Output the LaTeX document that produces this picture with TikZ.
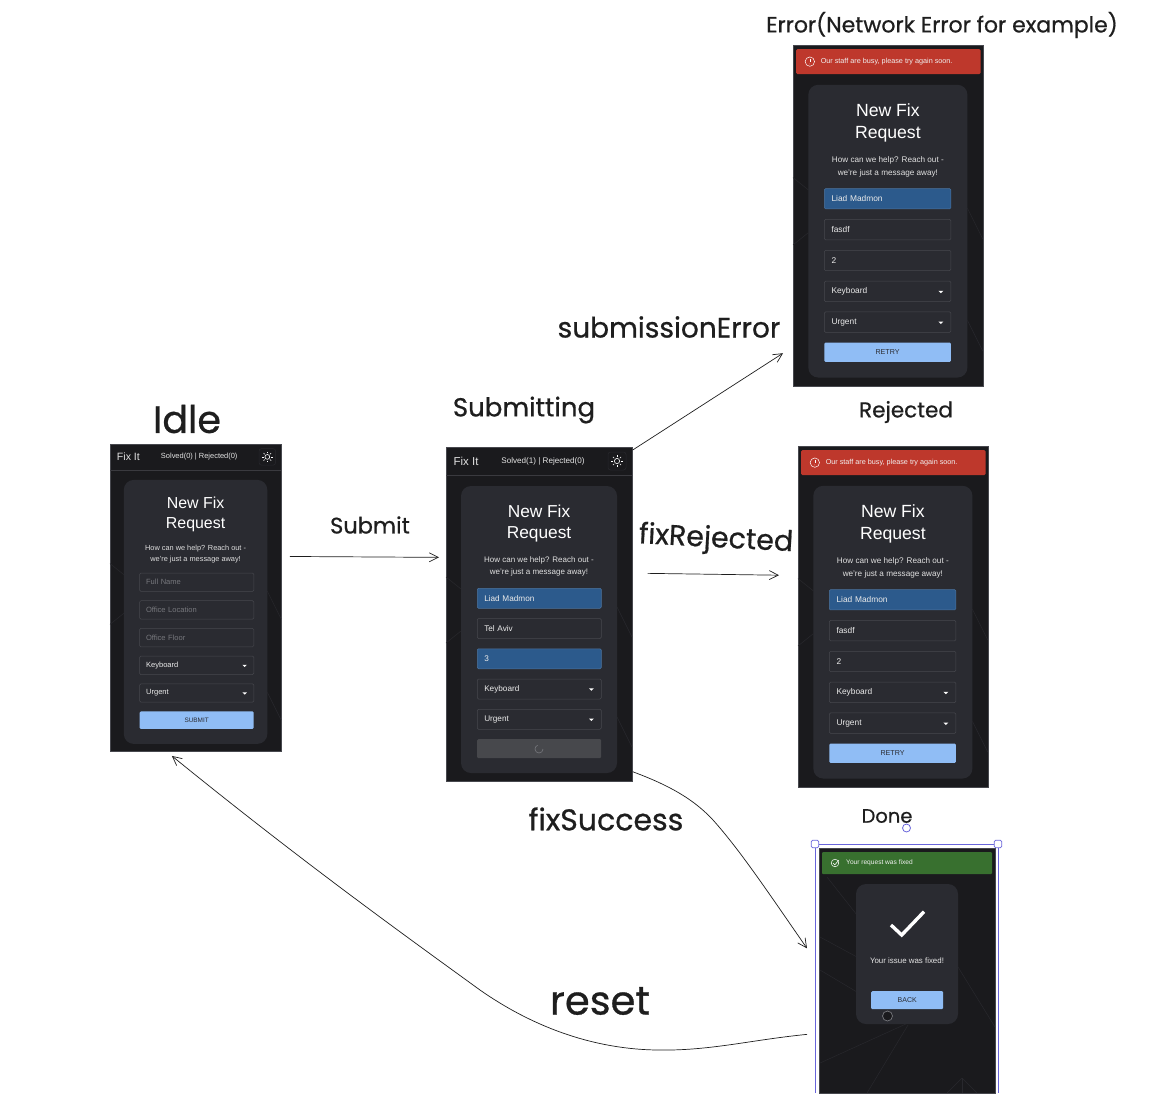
\documentclass[tikz,border=0pt]{standalone}
\usepackage{fontspec}
\setmainfont{Liberation Sans}
\newfontfamily\handfont[FakeBold=0.7]{Poppins}
\usepackage{tikz}
\usetikzlibrary{arrows.meta, calc}
\usepackage{xcolor}
\definecolor{fixPage}{HTML}{1A1A1D}
\definecolor{fixCard}{HTML}{2A2B31}
\definecolor{fixEdge}{HTML}{47484E}
\definecolor{fixFaint}{HTML}{28282D}
\definecolor{fixBlue}{HTML}{2C5A8C}
\definecolor{fixBtn}{HTML}{90BDF5}
\definecolor{fixGrey}{HTML}{47484C}
\definecolor{fixRed}{HTML}{BE382C}
\definecolor{fixGreen}{HTML}{38702F}
\definecolor{fixHint}{HTML}{77787D}
\definecolor{fixSelect}{HTML}{6965DB}
\definecolor{handInk}{HTML}{1E1E1E}

\begin{document}
\begin{tikzpicture}[
  x=1pt, y=-1pt,
  >={Straight Barb[length=9pt, width=9pt]},
  hand/.style={text=handInk, inner sep=0pt},
  link/.style={draw=handInk, line width=0.7pt, ->},
  idlescr/.style={shift={(110,444)}, scale=0.92, transform shape},
  subscr/.style={shift={(446,447)}, transform shape},
  errscr/.style={shift={(793,45)}, scale=1.02, transform shape},
  rejscr/.style={shift={(798,446)}, scale=1.02, transform shape},
  phonebox/.style={draw=fixEdge, fill=fixPage, line width=0.7pt, minimum width=186,
                   minimum height=334, inner sep=0pt, anchor=north west},
  whitetxt/.style={text=white, inner sep=0pt, align=center},
  fieldbase/.style={anchor=north west, minimum height=20, text width=110, inner xsep=7,
                    inner ysep=0pt, align=left, font=\fontsize{8.2}{10}\selectfont,
                    line width=0.5pt, rounded corners=1.2pt},
  fieldhint/.style={fieldbase, draw=fixEdge, text=fixHint},
  fieldtext/.style={fieldbase, draw=fixEdge, text=white!92!black},
  fieldblue/.style={fieldbase, draw=fixBlue!85!white, fill=fixBlue, text=white!92!black},
  btnbox/.style={anchor=north west, minimum width=124, minimum height=19, inner sep=0pt,
                 rounded corners=1.2pt, font=\fontsize{7}{8}\selectfont},
  bannertxt/.style={text=white!94!black, inner sep=0pt, anchor=west},
]
\useasboundingbox (0,0) rectangle (1169,1093);

% ============================== the four form screens ========================
% All four are one layout, so they share these rows; only shift and scale differ.
\foreach \scr/\sty in {idle/idlescr, sub/subscr, err/errscr, rej/rejscr} {
  \begin{scope}[\sty]
    \node[phonebox] (\scr-phone) at (0,0) {};
    \foreach \ax/\ay/\bx/\by in {0/130/15/142, 0/196/15/184, 171/160/186/190, 171/270/186/300}
      \draw[draw=fixFaint, line width=0.5pt] (\ax,\ay) -- (\bx,\by);
    \fill[fixCard, rounded corners=10pt] (15,39) rectangle (171,326);
    \node[whitetxt, font=\fontsize{17.3}{21}\selectfont] (\scr-title) at (93,76.5) {New Fix\\Request};
    \node[whitetxt, text=white!88!black, font=\fontsize{8}{12}\selectfont] (\scr-lead) at (93,119.5)
      {How can we help? Reach out -\\we're just a message away!};
  \end{scope}
}

% --- header of the two screens without a banner ---
\foreach \scr/\sty/\count in {idle/idlescr/0, sub/subscr/1} {
  \begin{scope}[\sty]
    \draw[draw=fixEdge!70!fixPage, line width=0.5pt] (0,28) -- (186,28);
    \node[whitetxt, text=white!88!black, font=\fontsize{11.5}{13}\selectfont] (\scr-brand) at (20,14) {Fix It};
    \node[whitetxt, text=white!90!black, font=\fontsize{8.1}{10}\selectfont] (\scr-score) at (97,14)
      {Solved(\count) | Rejected(0)};
    \draw[draw=fixFaint, line width=0.5pt, rounded corners=2.5pt] (162,5) rectangle (180,23);
    \draw[draw=white, line width=0.6pt] (171,14) circle (2.6pt);
    \foreach \a in {0,45,...,315}
      \draw[draw=white, line width=0.6pt] (171,14) ++(\a:4pt) -- ++(\a:1.8pt);
  \end{scope}
}

% --- red banner of the two failed screens ---
\foreach \scr/\sty in {err/errscr, rej/rejscr} {
  \begin{scope}[\sty]
    \fill[fixRed, rounded corners=1.5pt] (3,4) rectangle (184,28.5);
    \draw[draw=white, line width=0.5pt] (16.5,16.3) circle (4.6pt);
    \draw[draw=white, line width=0.6pt] (16.5,13.6) -- (16.5,16.8);
    \fill[white] (16.5,18.6) circle (0.35pt);
    \node[bannertxt, font=\fontsize{7.1}{8}\selectfont] (\scr-alert) at (27,16.3)
      {Our staff are busy, please try again soon.};
  \end{scope}
}

% --- the rows themselves ---
\begin{scope}[idlescr]
  \foreach \r/\cls/\txt in {0/fieldhint/Full Name, 1/fieldhint/Office Location, 2/fieldhint/Office Floor,
                            3/fieldtext/Keyboard, 4/fieldtext/Urgent}
    \node[\cls] (idle-row\r) at (32,{140+\r*30.1}) {\txt};
  \node[btnbox, fill=fixBtn, text=fixCard] (idle-btn) at (32,290.5) {SUBMIT};
\end{scope}

\begin{scope}[subscr]
  \foreach \r/\cls/\txt in {0/fieldblue/Liad Madmon, 1/fieldtext/Tel Aviv, 2/fieldblue/3,
                            3/fieldtext/Keyboard, 4/fieldtext/Urgent}
    \node[\cls] (sub-row\r) at (31,{141+\r*30.25}) {\txt};
  \node[btnbox, fill=fixGrey] (sub-btn) at (31,292) {};
  \draw[draw=fixHint, line width=0.6pt] (97,302) arc[start angle=0, end angle=-250, radius=4pt];
\end{scope}

\foreach \scr/\sty in {err/errscr, rej/rejscr} {
  \begin{scope}[\sty]
    \foreach \r/\cls/\txt in {0/fieldblue/Liad Madmon, 1/fieldtext/fasdf, 2/fieldtext/2,
                              3/fieldtext/Keyboard, 4/fieldtext/Urgent}
      \node[\cls] (\scr-row\r) at (30.5,{140.5+\r*30.25}) {\txt};
    \node[btnbox, fill=fixBtn, text=fixCard] (\scr-btn) at (30.5,291.5) {RETRY};
  \end{scope}
}

% The two select rows end in a small caret.
\foreach \scr/\sty in {idle/idlescr, sub/subscr, err/errscr, rej/rejscr} {
  \begin{scope}[\sty]
    \foreach \r in {3,4}
      \fill[white] ($(\scr-row\r.east)+(-12.5,-0.6)$) -- ++(4.8,0) -- ++(-2.4,2.4) -- cycle;
  \end{scope}
}

% ============================== the done screen ==============================
\node[phonebox, minimum width=176, minimum height=245] (done-phone) at (819,848) {};
\foreach \ax/\ay/\bx/\by in {908/1023/820/1063, 908/1025/867/1093, 958/967/995/1027, 827/877/857/915,
                             820/937/857/957, 820/970/857/992, 962/1078/947/1093, 962/1078/977/1093,
                             962/1078/962/1093}
  \draw[draw=fixFaint, line width=0.5pt] (\ax,\ay) -- (\bx,\by);
\fill[fixGreen, rounded corners=1pt] (822,852) rectangle (992,874);
\draw[draw=white, line width=0.5pt] (835,863) circle (3.8pt);
\draw[draw=white, line width=0.6pt] (833,863) -- (834.8,864.8) -- (838.8,860.2);
\node[bannertxt, font=\fontsize{6.6}{7}\selectfont] (done-alert) at (846,863) {Your request was fixed};
\fill[fixCard, rounded corners=10pt] (856,884) rectangle (958,1024);
\draw[draw=white, line width=3.4pt] (891,925) -- (901.7,935) -- (924,911.7);
\node[whitetxt, text=white!90!black, font=\fontsize{7.9}{9}\selectfont] (done-msg) at (907,961) {Your issue was fixed!};
\node[btnbox, fill=fixBtn, text=fixCard, minimum width=72, minimum height=18] (done-btn) at (871,991) {BACK};
\draw[draw=fixHint, fill=fixPage, line width=0.7pt] (887.5,1016) circle (5pt);

% --- selection frame round it ---
\draw[draw=fixSelect, line width=1pt] (815,1093) -- (815,844) -- (998,844) -- (998,1093);
\foreach \hx in {815,998}
  \draw[draw=fixSelect, fill=white, line width=0.8pt, rounded corners=1.5pt]
    (\hx-3.8,840.2) rectangle (\hx+3.8,847.8);
\draw[draw=fixSelect, fill=white, line width=0.8pt] (906.5,828) circle (4pt);

% ============================== hand written labels ==========================
\node[hand, font=\handfont\fontsize{38}{42}\selectfont] (idle-label) at (187,419) {Idle};
\node[hand, font=\handfont\fontsize{26}{30}\selectfont] (sub-label) at (524,410) {Submitting};
\node[hand, font=\handfont\fontsize{22.5}{28}\selectfont] (submit-label) at (370,525) {Submit};
\node[hand, font=\handfont\fontsize{28.5}{32}\selectfont, rotate=-3] (rejected-label) at (716,540) {fixRejected};
\node[hand, font=\handfont\fontsize{28}{30}\selectfont] (error-label) at (669,327) {submissionError};
\node[hand, font=\handfont\fontsize{22}{24}\selectfont] (err-label) at (942,25) {Error(Network Error for example)};
\node[hand, font=\handfont\fontsize{21.5}{25}\selectfont] (rej-label) at (906,412) {Rejected};
\node[hand, font=\handfont\fontsize{19.5}{23}\selectfont] (done-label) at (887,816) {Done};
\node[hand, font=\handfont\fontsize{30}{34}\selectfont] (success-label) at (606,819) {fixSuccess};
\node[hand, font=\handfont\fontsize{40}{42}\selectfont] (reset-label) at (600,1001) {reset};

% ============================== connectors ===================================
\draw[link] ([xshift=8pt, yshift=41.5pt]idle-phone.east) -- ([xshift=-7pt, yshift=57pt]sub-phone.west);
\draw[link] ([yshift=-3pt]sub-phone.north east) -- ([xshift=-10pt, yshift=-137.5pt]err-phone.west);
\draw[link] ([xshift=15pt, yshift=41pt]sub-phone.east) -- ([xshift=-19pt, yshift=41.5pt]rej-phone.west);
\draw[link] ([yshift=10pt]sub-phone.south east) .. controls (660,782) and (690,795) .. (713,820)
  .. controls (740,850) and (770,895) .. ([xshift=-12pt, yshift=22.5pt]done-phone.west);
\draw[link] ([xshift=-12pt, yshift=-63.5pt]done-phone.west) .. controls (750,1040) and (710,1051) .. (657,1050)
  .. controls (590,1049) and (530,1025) .. (480,990)
  .. controls (400,932) and (300,860) .. ([xshift=-24pt, yshift=-4pt]idle-phone.south);
\end{tikzpicture}
\end{document}
